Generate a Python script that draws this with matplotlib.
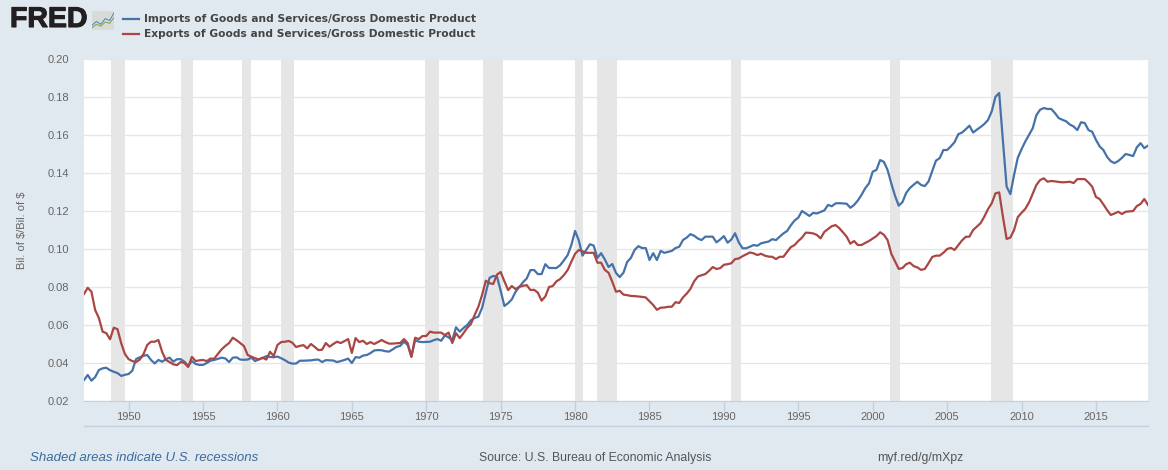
#FRED imports / exports as share of GDP, quarterly from 1947
import matplotlib
matplotlib.use('Agg')
import matplotlib.pyplot as plt
import matplotlib.patheffects as pe

plt.rcParams['font.family'] = ['Liberation Sans', 'DejaVu Sans']

imports_gdp = [
	.031,.0337,.0307,.0326, .0363,.0372,.0375,.0362, .0354,.0347,.0332,.0338,
	.0342,.036,.0421,.043, .0438,.0442,.0416,.0398, .0416,.0407,.042,.0428,
	.0407,.042,.042,.0407, .0385,.041,.0395,.039, .039,.04,.0412,.0416,
	.0422,.0428,.0424,.0405, .0428,.043,.0418,.0417, .0418,.0428,.041,.042,
	.0426,.0436,.0432,.043, .0434,.0425,.0415,.0402, .0397,.0397,.0412,.0412,
	.0413,.0414,.0417,.0418, .0405,.0415,.0414,.0413, .0405,.041,.0416,.0423,
	.04,.0431,.0428,.0439, .0442,.0452,.0466,.0468, .0467,.0462,.046,.0472,
	.0485,.049,.0512,.0495, .0433,.0521,.0512,.051, .0511,.0512,.052,.0526,
	.0517,.0545,.0535,.052, .0588,.0565,.0584,.06, .0625,.0637,.0644,.069,
	.0768,.0848,.0858,.0855, .078,.07,.0715,.0735, .0775,.08,.0825,.0845,
	.0889,.0889,.0868,.0868, .092,.09,.09,.09, .0915,.094,.0968,.1021,
	.1095,.1045,.0965,.0995, .1025,.1018,.0953,.0978, .0945,.0905,.0921,.0874,
	.0852,.0875,.0932,.0953, .0995,.1015,.1005,.1005, .0942,.0978,.0942,.099,
	.098,.0985,.099,.1005, .1012,.1047,.106,.1078, .107,.1055,.1047,.1065,
	.1065,.1065,.1035,.105, .1068,.1033,.105,.1083, .1035,.1004,.1004,.1012,
	.1021,.1017,.103,.1035, .1039,.1052,.1047,.1065, .1082,.1095,.1125,.115,
	.1165,.12,.1187,.1174, .119,.1187,.1195,.1203, .1232,.1225,.124,.1241,
	.124,.1238,.1217,.1232, .1255,.1285,.132,.1345, .1407,.1416,.1468,.1459,
	.1416,.1345,.128,.1228, .1247,.1295,.1321,.1338, .1354,.1337,.1331,.1355,
	.141,.1465,.1478,.1521, .1521,.154,.1562,.1604, .1613,.163,.1649,.1613,
	.1628,.1642,.1658,.1679, .1725,.1801,.1821,.157, .1328,.1289,.139,.148,
	.1525,.1565,.16,.1635, .1705,.1733,.1742,.1737, .1737,.1715,.1689,.168,
	.1672,.1655,.1645,.1626, .1667,.1663,.1626,.1617, .1575,.154,.1521,.1485,
	.1462,.1452,.1463,.148, .15,.1495,.1489,.1535, .1557,.1531,.1544]

exports_gdp = [
	.0763,.0796,.0775,.0679, .0637,.0565,.0557,.0525, .0586,.0578,.0504,.0447,
	.042,.041,.0405,.0418, .0447,.0495,.0512,.0512, .0521,.0459,.0416,.0405,
	.0393,.0389,.0405,.04, .0379,.0432,.041,.0414, .0416,.041,.0423,.0423,
	.0448,.0472,.049,.0505, .0533,.052,.0505,.0489, .0442,.0433,.0425,.0418,
	.0428,.0418,.0459,.0437, .0495,.051,.0512,.0516, .0507,.0484,.049,.0494,
	.0477,.05,.0485,.0468, .047,.0505,.0486,.05, .0512,.0505,.0515,.0526,
	.0453,.0531,.051,.0517, .05,.051,.05,.051, .0521,.051,.0502,.0502,
	.0504,.0505,.0526,.0505, .0433,.0533,.0526,.0542, .0542,.0565,.056,.056,
	.056,.0547,.056,.0505, .0557,.0531,.0557,.0585, .0605,.0653,.0696,.0758,
	.0833,.082,.0816,.0865, .0879,.083,.0784,.0805, .0789,.0801,.0806,.081,
	.0784,.0785,.077,.0728, .075,.08,.0805,.083, .0842,.0863,.0889,.0933,
	.0975,.0995,.0988,.098, .098,.098,.0928,.0928, .089,.0875,.0828,.0775,
	.078,.076,.0757,.0753, .0752,.075,.0748,.0745, .0725,.0705,.068,.0691,
	.0692,.0696,.0696,.072, .0716,.0745,.0765,.079, .083,.0855,.0862,.0868,
	.0885,.0905,.0895,.0899, .0917,.092,.0925,.0947, .095,.0962,.0972,.0982,
	.0977,.0968,.0975,.0965, .096,.0959,.0947,.0959, .0959,.0985,.101,.1021,
	.1042,.106,.1086,.1085, .1082,.1074,.1056,.109, .1105,.112,.1126,.111,
	.1088,.1065,.1028,.1042, .1021,.1021,.1032,.1042, .1055,.1068,.1088,.1075,
	.1047,.0975,.0935,.0895, .09,.092,.0928,.091, .0903,.089,.0895,.0925,
	.0958,.0965,.0965,.098, .1,.1006,.0995,.102, .1045,.1064,.1065,.11,
	.1118,.1136,.117,.121, .1241,.1293,.1298,.117, .1053,.106,.11,.1168,
	.119,.1211,.1244,.129, .1337,.1363,.1372,.1354, .1358,.1356,.1353,.1351,
	.1352,.1354,.1347,.1368, .1368,.1368,.135,.1328, .1274,.1263,.1235,.1205,
	.1179,.1187,.1196,.1184, .1196,.1198,.12,.1226, .1237,.1263,.1232]

#recession start and end, in decimal years
rec_start = [1948.83,1953.5,1957.6,1960.25,1969.92,1973.83,1980.0,1981.5,1990.5,2001.17,2007.92]
rec_end = [1949.75,1954.33,1958.25,1961.08,1970.83,1975.17,1980.5,1982.83,1991.17,2001.83,2009.42]

year_ticks = list(range(1950,2016,5))
y_ticks = [.02,.04,.06,.08,.10,.12,.14,.16,.18,.20]

imports_name = 'Imports of Goods and Services/Gross Domestic Product'
exports_name = 'Exports of Goods and Services/Gross Domestic Product'

bg = '#e1e9f0'
blue = '#4572a7'
red = '#aa4643'
W = 1168.0
H = 470.0

#quarterly dates
dates = [1947+i*0.25 for i in range(len(imports_gdp))]

fig = plt.figure(figsize=(W/100,H/100),dpi=100,facecolor=bg)
ax = fig.add_axes([84/W,1-401/H,(1148-84)/W,(401-59)/H])
ax.set_facecolor('white')
ax.set_axisbelow(True)
ax.grid(axis='y',color='#e6e6e6',linewidth=1)
for s,e in zip(rec_start,rec_end):
	ax.axvspan(s,e,color='#e6e6e6',linewidth=0,zorder=1)
ax.plot(dates,imports_gdp,color=blue,linewidth=1.6,zorder=3)
ax.plot(dates,exports_gdp,color=red,linewidth=1.6,zorder=4)
ax.set_xlim(1947,2018.5)
ax.set_ylim(.02,.20)
ax.set_xticks(year_ticks)
ax.set_yticks(y_ticks)
ax.set_yticklabels(['%.2f'%v for v in y_ticks])
for k in ['top','right','left']:
	ax.spines[k].set_visible(False)
ax.spines['bottom'].set_color('#c0d0e0')
ax.tick_params(axis='x',length=7,width=1,color='#c0d0e0',labelcolor='#666666',labelsize=8,pad=1)
ax.tick_params(axis='y',length=0,labelcolor='#666666',labelsize=8,pad=10.8)
ax.set_ylabel('Bil. of \\$/Bil. of \\$',color='#666666',fontsize=8)
ax.yaxis.set_label_coords((27-84)/(1148-84),0.5)

#line under the tick labels
fig.add_artist(plt.Line2D([84/W,1148/W],[1-426/H,1-426/H],color='#c0d0e0',linewidth=1))

#legend
leg_y = [19,34]
leg_col = [blue,red]
leg_txt = [imports_name,exports_name]
for i in range(2):
	fig.add_artist(plt.Line2D([123/W,139/W],[1-leg_y[i]/H,1-leg_y[i]/H],color=leg_col[i],linewidth=1.6))
	fig.text(144/W,1-leg_y[i]/H,leg_txt[i],family='DejaVu Sans',weight='bold',fontsize=7.7,color='#444444',va='center',ha='left')

#logo
logo = fig.text(10/W,1-20/H,'FRED',family='Liberation Sans',weight='bold',fontsize=20.5,color='#231f20',va='center',ha='left')
logo.set_path_effects([pe.withStroke(linewidth=.8,foreground='#231f20')])
icon = fig.add_axes([92/W,1-30/H,22/W,19/H])
icon.set_facecolor('#d8dcd8')
icon.set_xticks([])
icon.set_yticks([])
for k in icon.spines:
	icon.spines[k].set_visible(False)
icon.plot([0,.2,.4,.6,.8,1],[.25,.45,.3,.6,.5,.9],color='#5b8db8',linewidth=.8)
icon.plot([0,.2,.4,.6,.8,1],[.12,.3,.2,.42,.35,.65],color='#8aa85a',linewidth=.8)
icon.set_xlim(0,1)
icon.set_ylim(0,1)

#footer
fig.text(30/W,1-458/H,'Shaded areas indicate U.S. recessions',style='italic',fontsize=9.5,color='#3c6a9c',va='center',ha='left')
fig.text(479/W,1-458/H,'Source: U.S. Bureau of Economic Analysis',fontsize=8.8,color='#555555',va='center',ha='left')
fig.text(877/W,1-458/H,'myf.red/g/mXpz',fontsize=8.8,color='#555555',va='center',ha='left')

fig.savefig('out.png',dpi=100,facecolor=bg)
